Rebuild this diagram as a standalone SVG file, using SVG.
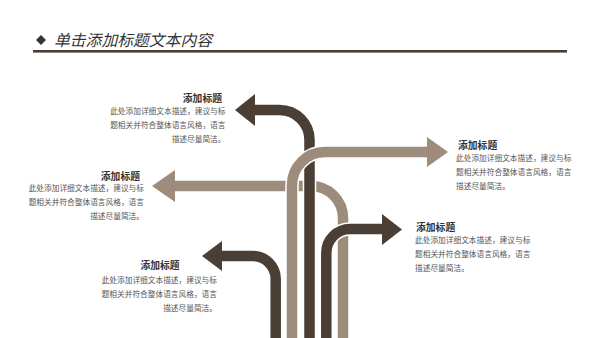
<svg xmlns="http://www.w3.org/2000/svg" width="600" height="338" viewBox="0 0 600 338">
<style>
.t{font-family:"Noto Sans CJK SC","Noto Sans",sans-serif;font-weight:bold;font-size:9.8px;fill:#333}
.b{font-family:"Noto Sans CJK SC","Noto Sans",sans-serif;font-size:7.7px;fill:#555}
.e{text-anchor:end}
.h{font-family:"Noto Sans CJK SC","Noto Sans",sans-serif;font-size:15.8px;font-style:italic;fill:#333}
.ow{fill:none;stroke:#fff;stroke-width:13.5}
.hw{stroke:#fff;stroke-width:3;stroke-linejoin:miter}
.dk{fill:none;stroke:#4b3e35;stroke-width:10.5}
.lt{fill:none;stroke:#9d8c7b;stroke-width:10.5}
.dkf{fill:#4b3e35}
.ltf{fill:#9d8c7b}
</style>
<rect width="600" height="338" fill="#fff"/>
<g id="header">
<polygon points="41,35 46,40 41,45 36,40" fill="#333"/>
<text class="h" x="54" y="45.5">单击添加标题文本内容</text>
<rect x="33" y="50" width="534" height="2.6" fill="#4a3f38"/>
</g>
<g id="arrows">
<g id="arrow3">
<path class="ow" d="M343 340 V218 A32 32 0 0 0 311 186 H174"/>
<polygon class="hw" points="175,170 152,186 175,202" fill="#fff"/>
<path class="lt" d="M343 340 V218 A32 32 0 0 0 311 186 H174"/>
<polygon class="ltf" points="175,170 152,186 175,202"/>
</g>
<g id="arrow1">
<path class="ow" d="M309.5 340 V140 A30 30 0 0 0 279.5 110 H254"/>
<polygon class="hw" points="255,94 235,110 255,126" fill="#fff"/>
<path class="dk" d="M309.5 340 V140 A30 30 0 0 0 279.5 110 H254"/>
<polygon class="dkf" points="255,94 235,110 255,126"/>
</g>
<g id="arrow2">
<path class="ow" d="M292 340 V185 A33 33 0 0 1 325 152 H428"/>
<polygon class="hw" points="427,137 448,152 427,167" fill="#fff"/>
<path class="lt" d="M292 340 V185 A33 33 0 0 1 325 152 H428"/>
<polygon class="ltf" points="427,137 448,152 427,167"/>
</g>
<g id="arrow5">
<path class="ow" d="M275.7 340 V279 A23 23 0 0 0 252.7 256 H221"/>
<polygon class="hw" points="222,241 202,256 222,271" fill="#fff"/>
<path class="dk" d="M275.7 340 V279 A23 23 0 0 0 252.7 256 H221"/>
<polygon class="dkf" points="222,241 202,256 222,271"/>
</g>
<g id="arrow4">
<path class="ow" d="M326.3 340 V253 A24 24 0 0 1 350.3 229 H383"/>
<polygon class="hw" points="382,214 402,229.5 382,245" fill="#fff"/>
<path class="dk" d="M326.3 340 V253 A24 24 0 0 1 350.3 229 H383"/>
<polygon class="dkf" points="382,214 402,229.5 382,245"/>
</g>
</g>
<g id="text1">
<text class="t e" x="222" y="102">添加标题</text>
<text class="b e" x="225.5" y="114">此处添加详细文本描述，建议与标</text>
<text class="b e" x="225.5" y="128">题相关并符合整体语言风格，语言</text>
<text class="b e" x="225.5" y="142">描述尽量简洁。</text>
</g>
<g id="text2">
<text class="t e" x="140" y="179.5">添加标题</text>
<text class="b e" x="144" y="191">此处添加详细文本描述，建议与标</text>
<text class="b e" x="144" y="205">题相关并符合整体语言风格，语言</text>
<text class="b e" x="144" y="219">描述尽量简洁。</text>
</g>
<g id="text3">
<text class="t" x="458" y="149">添加标题</text>
<text class="b" x="456" y="161">此处添加详细文本描述，建议与标</text>
<text class="b" x="456" y="175">题相关并符合整体语言风格，语言</text>
<text class="b" x="456" y="189">描述尽量简洁。</text>
</g>
<g id="text4">
<text class="t" x="416" y="231">添加标题</text>
<text class="b" x="415" y="243">此处添加详细文本描述，建议与标</text>
<text class="b" x="415" y="257">题相关并符合整体语言风格，语言</text>
<text class="b" x="415" y="271">描述尽量简洁。</text>
</g>
<g id="text5">
<text class="t" x="160" y="268.5" text-anchor="middle">添加标题</text>
<text class="b e" x="217" y="283">此处添加详细文本描述，建议与标</text>
<text class="b e" x="217" y="297">题相关并符合整体语言风格，语言</text>
<text class="b e" x="217" y="311">描述尽量简洁。</text>
</g>
</svg>
